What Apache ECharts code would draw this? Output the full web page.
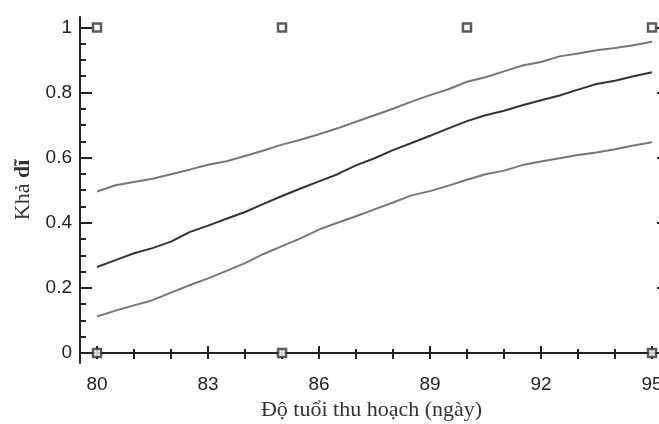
<!DOCTYPE html>
<html>
<head>
<meta charset="utf-8">
<script src="https://cdn.jsdelivr.net/npm/echarts@6/dist/echarts.min.js"></script>
<style>html,body{margin:0;padding:0;background:#fff;}#c{width:659px;height:424px;}</style>
</head>
<body>
<div id="c"></div>
<script>
// Harvest age (days)
var ages = [80,80.5,81,81.5,82,82.5,83,83.5,84,84.5,85,85.5,86,86.5,87,87.5,88,88.5,89,89.5,90,90.5,91,91.5,92,92.5,93,93.5,94,94.5,95];
var upper = [0.496,0.515,0.525,0.535,0.549,0.563,0.578,0.589,0.605,0.622,0.640,0.655,0.672,0.690,0.710,0.730,0.750,0.772,0.792,0.810,0.833,0.847,0.865,0.883,0.894,0.911,0.920,0.930,0.937,0.945,0.956];
var middle = [0.264,0.285,0.306,0.322,0.342,0.371,0.391,0.412,0.433,0.458,0.482,0.505,0.527,0.549,0.576,0.598,0.623,0.645,0.667,0.690,0.712,0.730,0.744,0.761,0.776,0.791,0.809,0.826,0.836,0.850,0.862];
var lower = [0.112,0.130,0.146,0.162,0.185,0.208,0.229,0.252,0.276,0.304,0.328,0.352,0.379,0.400,0.420,0.441,0.462,0.484,0.497,0.514,0.532,0.549,0.560,0.577,0.588,0.598,0.608,0.616,0.626,0.637,0.647];
// observed points (markers)
var topMarkX = [80,85,90,95];
var bottomMarkX = [80,85,95];
// tick labels
var xTickLabels = [80,83,86,89,92,95];
var xMinorTicks = [80,81,82,83,84,85,86,87,88,89,90,91,92,93,94,95];
var yTickLabels = [0,0.2,0.4,0.6,0.8,1];
var yMinorTicks = [0,0.05,0.1,0.15,0.2,0.25,0.3,0.35,0.4,0.45,0.5,0.55,0.6,0.65,0.7,0.75,0.8,0.85,0.9,0.95,1];

function pairs(xs, ys){ return xs.map(function(x,i){return [x, ys[i]];}); }

var XMIN = 79.54, XMAX = 95.46, YMIN = -0.031, YMAX = 1.032;
var axisCol = '#222';
var labelFont = {fontFamily:'Liberation Sans', fontSize:19, color:'#222'};

var chart = echarts.init(document.getElementById('c'), null, {renderer:'canvas'});
chart.setOption({
  animation:false,
  grid:{left:80, top:17, width:589, height:346, outerBoundsMode:'none', containLabel:false},
  xAxis:[
    {type:'value', position:'bottom', min:XMIN, max:XMAX,
     name:'Độ tuổi thu hoạch (ngày)', nameLocation:'middle', nameGap:35,
     nameTextStyle:{fontFamily:'Liberation Serif', fontSize:22, color:'#333', padding:[0,6,0,0]},
     axisLine:{show:true, lineStyle:{color:axisCol, width:2}},
     axisTick:{show:true, inside:true, length:7, customValues:xTickLabels, lineStyle:{color:axisCol, width:2}},
     axisLabel:{show:true, customValues:xTickLabels, margin:12, fontFamily:labelFont.fontFamily, fontSize:labelFont.fontSize, color:labelFont.color},
     splitLine:{show:false}},
    {type:'value', position:'bottom', min:XMIN, max:XMAX,
     axisLine:{show:false},
     axisTick:{show:true, inside:true, length:4, customValues:xMinorTicks, lineStyle:{color:axisCol, width:2}},
     axisLabel:{show:false}, splitLine:{show:false}},
    {type:'value', position:'top', min:XMIN, max:XMAX,
     axisLine:{show:true, lineStyle:{color:axisCol, width:2}},
     axisTick:{show:true, inside:true, length:6, customValues:xMinorTicks, lineStyle:{color:axisCol, width:2}},
     axisLabel:{show:false}, splitLine:{show:false}}
  ],
  yAxis:[
    {type:'value', position:'left', min:YMIN, max:YMAX,
     name:'Khả {b|dĩ}', nameLocation:'middle', nameGap:45, nameRotate:90,
     nameTextStyle:{fontFamily:'Liberation Serif', fontSize:22, color:'#333',
       rich:{b:{fontFamily:'Liberation Serif', fontSize:22, fontWeight:'bold', color:'#333'}}},
     axisLine:{show:true, lineStyle:{color:axisCol, width:2}},
     axisTick:{show:true, inside:true, length:12, customValues:yTickLabels, lineStyle:{color:axisCol, width:2}},
     axisLabel:{show:true, customValues:yTickLabels, margin:8, fontFamily:labelFont.fontFamily, fontSize:labelFont.fontSize, color:labelFont.color,
       formatter:function(v){return String(+(+v).toFixed(2));}},
     splitLine:{show:false}},
    {type:'value', position:'left', min:YMIN, max:YMAX,
     axisLine:{show:false},
     axisTick:{show:true, inside:true, length:6, customValues:yMinorTicks, lineStyle:{color:axisCol, width:2}},
     axisLabel:{show:false}, splitLine:{show:false}},
    {type:'value', position:'right', min:YMIN, max:YMAX,
     axisLine:{show:true, lineStyle:{color:axisCol, width:2}},
     axisTick:{show:true, inside:true, length:12, customValues:yTickLabels, lineStyle:{color:axisCol, width:2}},
     axisLabel:{show:false}, splitLine:{show:false}}
  ],
  series:[
    {type:'line', xAxisIndex:0, yAxisIndex:0, data:pairs(ages, upper), showSymbol:false, lineStyle:{color:'#777', width:2}, z:3},
    {type:'line', xAxisIndex:0, yAxisIndex:0, data:pairs(ages, middle), showSymbol:false, lineStyle:{color:'#333', width:2}, z:3},
    {type:'line', xAxisIndex:0, yAxisIndex:0, data:pairs(ages, lower), showSymbol:false, lineStyle:{color:'#777', width:2}, z:3},
    {type:'scatter', xAxisIndex:0, yAxisIndex:0, symbol:'rect', symbolSize:8,
     data:topMarkX.map(function(x){return [x,1];}).concat(bottomMarkX.map(function(x){return [x,0];})),
     itemStyle:{color:'#fff', borderColor:'#333', borderWidth:2.5}, z:5}
  ]
});
</script>
</body>
</html>
